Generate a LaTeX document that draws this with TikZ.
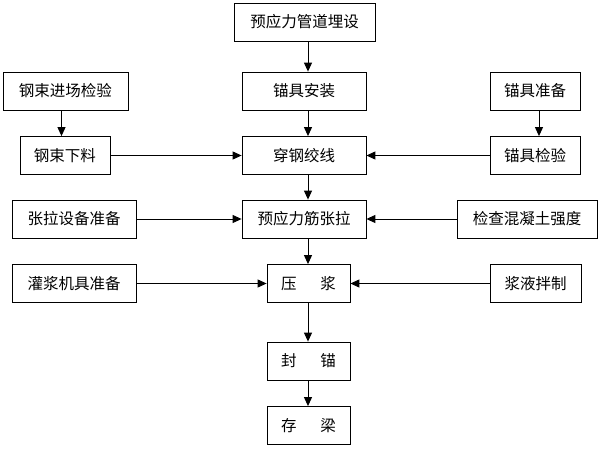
\documentclass[tikz,border=0pt]{standalone}
\usepackage{fontspec}
\newfontfamily\cjk{Noto Sans CJK SC}
\usetikzlibrary{positioning, arrows.meta, calc}

\begin{document}
\begin{tikzpicture}[x=1pt, y=-1pt,
		box/.style={draw, line width=0.8pt, minimum height=38pt, inner sep=0pt, font=\cjk\fontsize{15.5}{18}\selectfont},
		arr/.style={line width=1pt, -{Triangle[length=9pt,width=8pt]}}]
			\useasboundingbox (0,0) rectangle (600,450);
			\coordinate (spine) at (308,0);

			\node[box, minimum width=141pt] (pipe) at (304.5,22) {预应力管道埋设};
			\node[box, minimum width=124pt] (anchor) at (304,91) {锚具安装};
			\node[box, minimum width=124pt] (thread) at (304,155.5) {穿钢绞线};
			\node[box, minimum width=124pt] (tension) at (304,219) {预应力筋张拉};
			\node[box, minimum width=83pt] (grout) at (308.5,283.5) {压\hspace{24pt}浆};
			\node[box, minimum width=83pt] (seal) at (308.5,361) {封\hspace{24pt}锚};
			\node[box, minimum width=83pt] (store) at (308.5,425.5) {存\hspace{24pt}梁};

			\node[box, minimum width=125pt] (strandcheck) at (65.5,91) {钢束进场检验};
			\node[box, minimum width=90pt] (strandcut) at (65,155.5) {钢束下料};
			\node[box, minimum width=124pt] (jackprep) at (74,219) {张拉设备准备};
			\node[box, minimum width=124pt] (pumpprep) at (74,283.5) {灌浆机具准备};

			\node[box, minimum width=90pt] (anchprep) at (535,91) {锚具准备};
			\node[box, minimum width=90pt] (anchcheck) at (535,155.5) {锚具检验};
			\node[box, minimum width=140pt] (concrete) at (527,219) {检查混凝土强度};
			\node[box, minimum width=91pt] (mix) at (535.5,283.5) {浆液拌制};

			\draw[arr] (pipe.south -| spine) -- (anchor.north -| spine);
			\draw[arr] (anchor.south -| spine) -- (thread.north -| spine);
			\draw[arr] (thread.south -| spine) -- (tension.north -| spine);
			\draw[arr] (tension.south -| spine) -- (grout.north -| spine);
			\draw[arr] (grout.south -| spine) -- (seal.north -| spine);
			\draw[arr] (seal.south -| spine) -- (store.north -| spine);

			\draw[arr] ([xshift=-4pt]strandcheck.south) -- ([xshift=-4pt]strandcheck.south |- strandcut.north);
			\draw[arr] ([xshift=4pt]anchprep.south) -- ([xshift=4pt]anchprep.south |- anchcheck.north);

			\draw[arr] (strandcut) -- (thread);
			\draw[arr] (anchcheck) -- (thread);
			\draw[arr] (jackprep) -- (tension);
			\draw[arr] (concrete) -- (tension);
			\draw[arr] (pumpprep) -- (grout);
			\draw[arr] (mix) -- (grout);
		\end{tikzpicture}
\end{document}
